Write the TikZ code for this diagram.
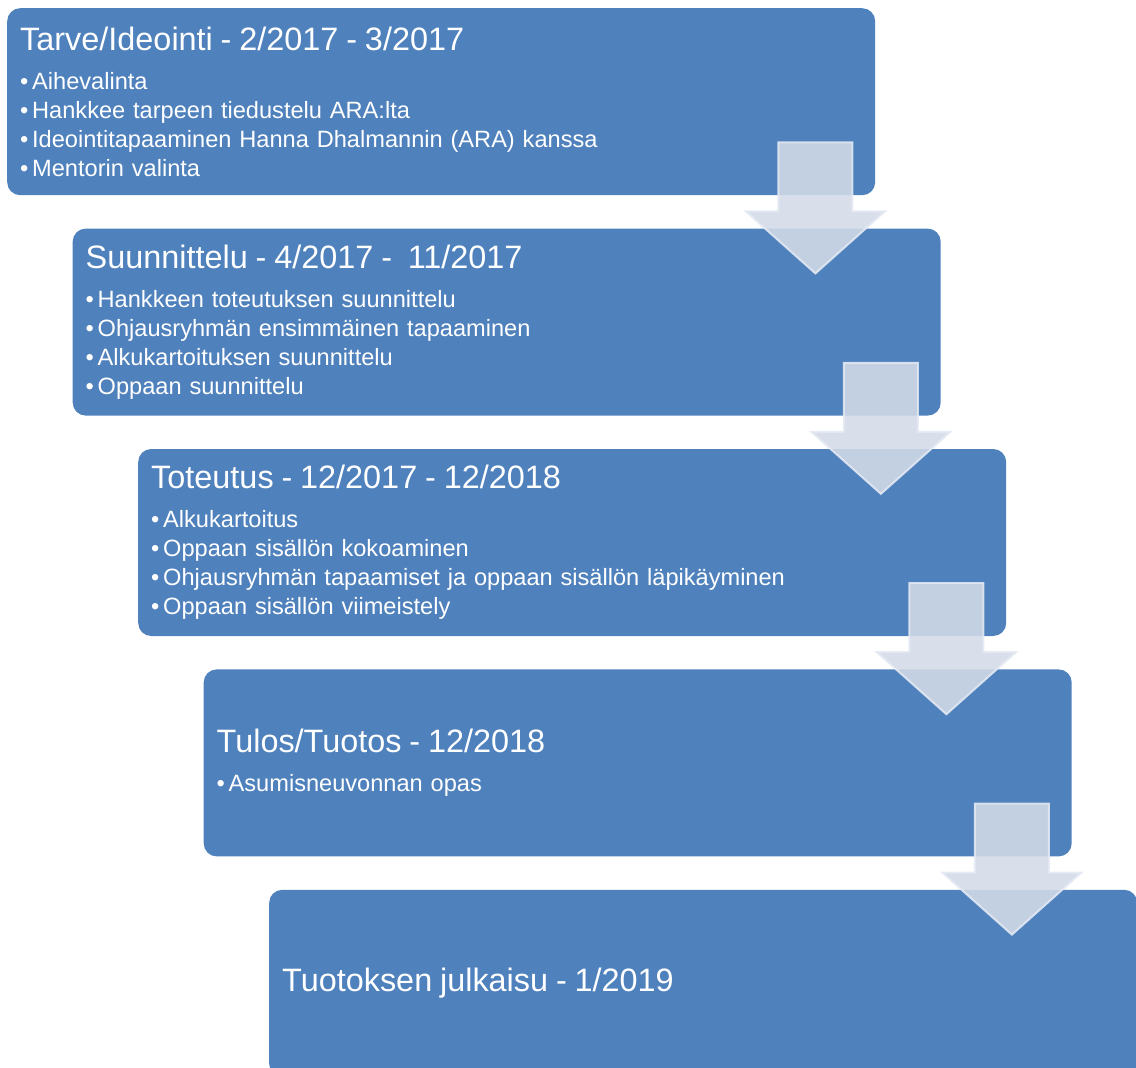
\documentclass[tikz,border=0pt]{standalone}
\usepackage{fontspec}
\setmainfont{Liberation Sans}
\usepackage{tikz}
\usetikzlibrary{positioning}
\definecolor{boxblue}{HTML}{4F81BD}
\definecolor{arrfill}{HTML}{D3DBE7}
\definecolor{arredge}{HTML}{E4E9F3}
\newcommand{\titlefont}{\fontsize{32.4}{37}\selectfont}
\newcommand{\itemdot}{\makebox[12pt][l]{\textbullet}}
\tikzset{
  stagebox/.style={fill=boxblue, rounded corners=13pt, text=white, inner xsep=13pt, inner ysep=0pt,
    minimum width=868pt, minimum height=187pt, text width=842pt, align=left,
    font=\fontsize{23.6}{29}\selectfont},
  downarr/.style={fill=arrfill, draw=arredge, line width=2pt, opacity=0.88}
}
\begin{document}
\begin{tikzpicture}[node distance=33pt]
  \clip (0,0) rectangle (1136pt,-1068pt);

  \node[stagebox, anchor=north west] (s1) at (7pt,-8pt) {{\titlefont Tarve/Ideointi - 2/2017 - 3/2017}\\[10pt]
    \itemdot Aihevalinta\\
    \itemdot Hankkee tarpeen tiedustelu ARA:lta\\
    \itemdot Ideointitapaaminen Hanna Dhalmannin (ARA) kanssa\\
    \itemdot Mentorin valinta};
  \node[stagebox, below=of s1, xshift=65.5pt] (s2) {{\titlefont Suunnittelu - 4/2017 - \ 11/2017}\\[10pt]
    \itemdot Hankkeen toteutuksen suunnittelu\\
    \itemdot Ohjausryhmän ensimmäinen tapaaminen\\
    \itemdot Alkukartoituksen suunnittelu\\
    \itemdot Oppaan suunnittelu};
  \node[stagebox, below=of s2, xshift=65.5pt] (s3) {{\titlefont Toteutus - 12/2017 - 12/2018}\\[10pt]
    \itemdot Alkukartoitus\\
    \itemdot Oppaan sisällön kokoaminen\\
    \itemdot Ohjausryhmän tapaamiset ja oppaan sisällön läpikäyminen\\
    \itemdot Oppaan sisällön viimeistely};
  \node[stagebox, below=of s3, xshift=65.5pt] (s4) {{\titlefont Tulos/Tuotos - 12/2018}\\[10pt]
    \itemdot Asumisneuvonnan opas};
  \node[stagebox, below=of s4, xshift=65.5pt] (s5) {{\titlefont Tuotoksen julkaisu - 1/2019}};

  % arrows between stages
  \foreach \s in {1,...,4}
    \draw[downarr] ([xshift=-97pt,yshift=53pt]s\s.south east) -- ++(0,-69pt) -- ++(-32.5pt,0)
      -- ++(69.5pt,-62pt) -- ++(69.5pt,62pt) -- ++(-32.5pt,0) -- ++(0,69pt) -- cycle;
\end{tikzpicture}
\end{document}
